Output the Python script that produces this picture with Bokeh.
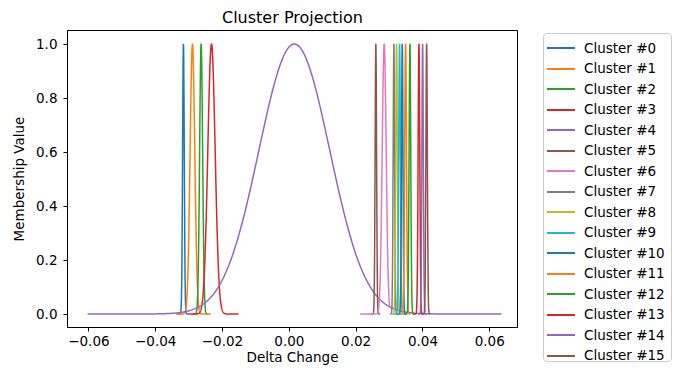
import numpy as np
from bokeh.plotting import figure
from bokeh.layouts import row
from bokeh.models import Range1d, FixedTicker, Div
from bokeh.embed import file_html
from bokeh.resources import INLINE

# ---- data ----
cluster_names = [f"Cluster #{i}" for i in range(16)]
centers = [-0.0317, -0.0290, -0.0264, -0.0233, 0.0015, 0.0259, 0.0284, 0.0313,
           0.0321, 0.0330, 0.0338, 0.0348, 0.0361, 0.0388, 0.0399, 0.0411]
sigmas = [0.00025, 0.0007, 0.00045, 0.0011, 0.0106, 0.00022, 0.0006, 0.00022,
          0.00025, 0.00025, 0.00022, 0.00028, 0.00025, 0.00025, 0.00022, 0.00022]
x_lo = [-0.0335, -0.0340, -0.0290, -0.0300, -0.0604, 0.0245, 0.0212, 0.0301,
        0.0305, 0.0312, 0.0322, 0.0330, 0.0345, 0.0372, 0.0385, 0.0398]
x_hi = [-0.0300, -0.0235, -0.0246, -0.0152, 0.0635, 0.0272, 0.0300, 0.0325,
        0.0335, 0.0345, 0.0352, 0.0362, 0.0375, 0.0402, 0.0412, 0.0422]
colors = ["#1f77b4", "#ff7f0e", "#2ca02c", "#d62728", "#9467bd", "#8c564b",
          "#e377c2", "#7f7f7f", "#bcbd22", "#17becf", "#1f77b4", "#ff7f0e",
          "#2ca02c", "#d62728", "#9467bd", "#8c564b"]
x_ticks = [-0.06, -0.04, -0.02, 0.0, 0.02, 0.04, 0.06]
x_tick_labels = ["\u22120.06", "\u22120.04", "\u22120.02", "0.00", "0.02", "0.04", "0.06"]
y_ticks = [0.0, 0.2, 0.4, 0.6, 0.8, 1.0]
y_tick_labels = ["0.0", "0.2", "0.4", "0.6", "0.8", "1.0"]

FONT = "DejaVu Sans"

p = figure(width=518, height=371, output_backend="svg", toolbar_location=None,
           x_range=Range1d(-0.0664, 0.0683), y_range=Range1d(-0.05, 1.05),
           min_border_left=67, min_border_right=1, min_border_top=30,
           min_border_bottom=44, title="Cluster Projection")

p.title.text_font = FONT
p.title.text_font_size = "16px"
p.title.text_font_style = "normal"
p.title.align = "center"
p.title.standoff = 8
p.title.text_color = "black"

p.grid.visible = False
p.outline_line_color = "black"
p.outline_line_width = 1

for ax in (p.xaxis[0], p.yaxis[0]):
    ax.major_label_text_font = FONT
    ax.major_label_text_font_size = "13.5px"
    ax.major_label_text_color = "black"
    ax.axis_label_text_font = FONT
    ax.axis_label_text_font_size = "13.5px"
    ax.axis_label_text_font_style = "normal"
    ax.axis_label_text_color = "black"
    ax.minor_tick_line_color = None
    ax.major_tick_in = 0
    ax.major_tick_out = 4
    ax.major_tick_line_color = "black"
    ax.axis_line_color = "black"

p.xaxis.major_label_standoff = 4
p.xaxis.axis_label_standoff = 0
p.yaxis.major_label_standoff = 6
p.yaxis.axis_label_standoff = 6

p.xaxis.ticker = FixedTicker(ticks=x_ticks)
p.xaxis.major_label_overrides = {t: l for t, l in zip(x_ticks, x_tick_labels)}
p.yaxis.ticker = FixedTicker(ticks=y_ticks)
p.yaxis.major_label_overrides = {t: l for t, l in zip(y_ticks, y_tick_labels)}
p.xaxis.axis_label = "Delta Change"
p.yaxis.axis_label = "Membership Value"

for name, c, s, lo, hi, col in zip(cluster_names, centers, sigmas, x_lo, x_hi, colors):
    xs = np.linspace(lo, hi, 600)
    ys = np.exp(-((xs - c) ** 2) / (2 * s ** 2))
    p.line(xs, ys, line_color=col, line_width=1.5)

# legend, placed to the right of the axes (outside the plot frame)
rows_html = "".join(
    f'<div style="height:20.5px;white-space:nowrap;display:flex;align-items:center;">'
    f'<span style="display:inline-block;width:28px;height:2px;background:{col};'
    f'margin-right:9px;"></span>{name}</div>'
    for name, col in zip(cluster_names, colors)
)
legend_html = (
    '<div style="margin-left:20px;margin-top:28px;width:129px;height:329px;'
    'box-sizing:border-box;border:1px solid #cccccc;border-radius:4px;'
    'padding:4px 0 0 3px;background:rgba(255,255,255,0.8);'
    "font-family:'DejaVu Sans';font-size:13.5px;color:#000;\">"
    + rows_html + "</div>"
)
legend_div = Div(text=legend_html, width=166, height=371)

open("out.html", "w").write(file_html(row(p, legend_div), INLINE))
